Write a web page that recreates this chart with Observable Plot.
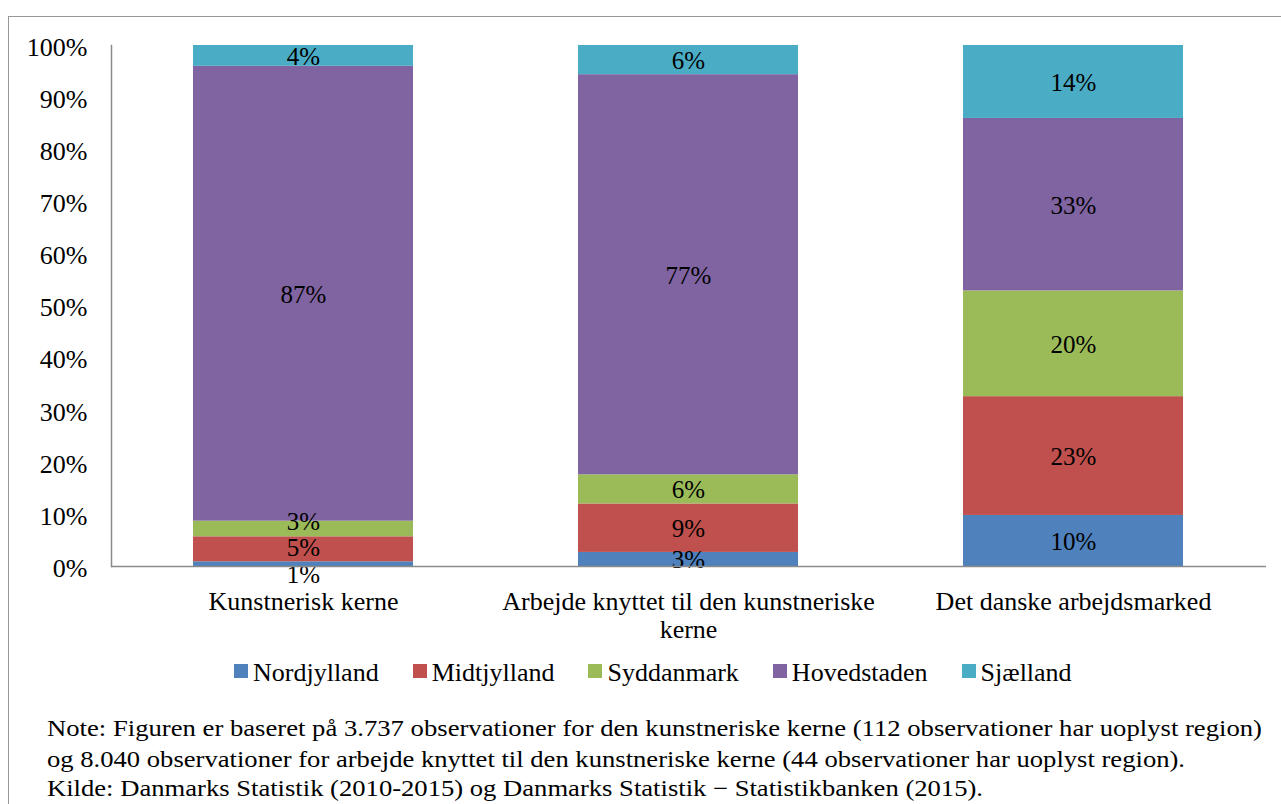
<!DOCTYPE html>
<html><head><meta charset="utf-8">
<script src="https://cdn.jsdelivr.net/npm/d3@7"></script>
<script src="https://cdn.jsdelivr.net/npm/@observablehq/plot@0.6"></script>
<style>
html,body{margin:0;padding:0;background:#fff;overflow:hidden;width:1281px;height:804px;}
#wrap{position:relative;width:1281px;height:804px;font-family:"Liberation Serif","Times New Roman",serif;color:#000;}
#border{position:absolute;left:8px;top:16px;width:1400px;height:900px;border-left:1.5px solid #979797;border-top:1.5px solid #979797;}
#chart{position:absolute;left:0;top:0;}
#legend{position:absolute;left:234px;top:656px;display:flex;align-items:center;height:34px;font-size:26px;white-space:nowrap;}
.item{display:flex;align-items:center;margin-right:34px;}
.sw{width:14px;height:14px;margin-right:5px;position:relative;top:-2px;}
#notes{position:absolute;left:0;top:700px;}
</style></head>
<body><div id="wrap"><div id="border"></div><div id="chart"></div><div id="legend"></div><svg id="notes" width="1281" height="104"></svg></div>
<script>
const categories = ["Kunstnerisk kerne", "Arbejde knyttet til den kunstneriske kerne", "Det danske arbejdsmarked"];
const tickLabels = ["Kunstnerisk kerne", "Arbejde knyttet til den kunstneriske\nkerne", "Det danske arbejdsmarked"];
const regions = ["Nordjylland", "Midtjylland", "Syddanmark", "Hovedstaden", "Sjælland"];
const colors = ["#4F81BD", "#C0504D", "#9BBB59", "#8064A2", "#4BACC6"];
const nordjylland = [0.9, 2.7, 9.8];
const midtjylland = [4.8, 9.3, 22.8];
const syddanmark = [3.0, 5.6, 20.3];
const hovedstaden = [87.3, 76.8, 33.1];
const sjaelland = [4.0, 5.6, 14.0];
const yTicks = [0, 10, 20, 30, 40, 50, 60, 70, 80, 90, 100];
const noteLines = [
  "Note: Figuren er baseret på 3.737 observationer for den kunstneriske kerne (112 observationer har uoplyst region)",
  "og 8.040 observationer for arbejde knyttet til den kunstneriske kerne (44 observationer har uoplyst region).",
  "Kilde: Danmarks Statistik (2010-2015) og Danmarks Statistik − Statistikbanken (2015)."
];

const series = [nordjylland, midtjylland, syddanmark, hovedstaden, sjaelland];
const data = [];
categories.forEach((c, i) => regions.forEach((r, j) => data.push({category: c, region: r, value: series[j][i]})));

// label positions: segment midpoints, pushed apart when they would overlap
const labelData = categories.flatMap((c, i) => {
  let cum = 0;
  const items = regions.map((r, j) => {
    const v = series[j][i];
    const mid = cum + v / 2;
    cum += v;
    return {category: c, region: r, value: v, pos: mid};
  });
  const gap = 5.0;
  for (let it = 0; it < 300; it++) {
    for (let k = 0; k < items.length - 1; k++) {
      const d = items[k + 1].pos - items[k].pos;
      if (d < gap) { const s = (gap - d) / 2; items[k].pos -= s; items[k + 1].pos += s; }
    }
  }
  return items;
});

const pin = 165 / 385;
const plot = Plot.plot({
  width: 1281, height: 640,
  marginLeft: 111, marginRight: 15, marginTop: 45, marginBottom: 74,
  style: {fontFamily: '"Liberation Serif", "Times New Roman", serif', fontSize: "26px", color: "#000", background: "transparent", overflow: "visible"},
  x: {domain: categories, paddingInner: pin, paddingOuter: pin / 2, label: null},
  y: {domain: [0, 100], label: null},
  color: {domain: regions, range: colors},
  marks: [
    Plot.barY(data, {x: "category", y: "value", fill: "region"}),
    Plot.text(labelData, {x: "category", y: "pos", text: d => Math.round(d.value) + "%", fontSize: 25, fill: "#000", dy: 1}),
    Plot.ruleY([0], {stroke: "#8a8a8a", strokeWidth: 1.5}),
    Plot.frame({anchor: "left", stroke: "#8a8a8a", strokeWidth: 1.5}),
    Plot.axisY({ticks: yTicks, tickSize: 0, tickPadding: 24, tickFormat: d => d + "%", fontSize: 26, dy: 2, label: null}),
    Plot.axisX({tickSize: 0, tickPadding: 23, tickFormat: d => tickLabels[categories.indexOf(d)], fontSize: 26, lineHeight: 1.1, label: null})
  ]
});
document.getElementById("chart").appendChild(plot);

const legend = d3.select("#legend");
regions.forEach((r, j) => {
  const it = legend.append("div").attr("class", "item");
  it.append("div").attr("class", "sw").style("background", colors[j]);
  it.append("span").text(r);
});

const notes = d3.select("#notes");
const noteWidths = [1215, 1138, 936];
const noteBase = [36, 67, 96];
noteLines.forEach((t, i) => {
  notes.append("text").attr("x", 47).attr("y", noteBase[i])
    .attr("textLength", noteWidths[i]).attr("lengthAdjust", "spacingAndGlyphs")
    .style("font-family", '"Liberation Serif", "Times New Roman", serif').style("font-size", "23px")
    .text(t);
});
</script>
</body></html>
